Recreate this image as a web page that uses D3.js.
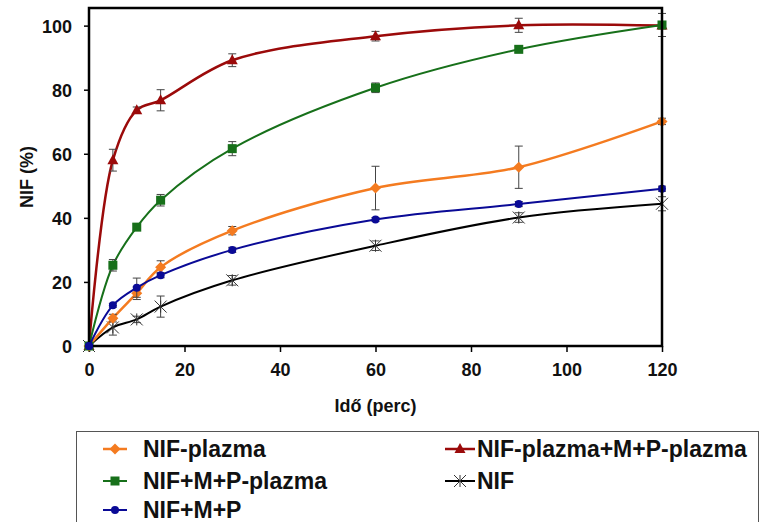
<!DOCTYPE html>
<html>
<head>
<meta charset="utf-8">
<script src="https://cdn.jsdelivr.net/npm/d3@7"></script>
<style>
  body { margin: 0; background: #fff; }
  svg { display: block; font-family: "Liberation Sans", Arial, sans-serif; }
  .tick-label { font-size: 18px; font-weight: bold; fill: #111; }
  .axis-title { font-size: 18px; font-weight: bold; fill: #111; }
  .legend-label { font-size: 23px; font-weight: bold; fill: #111; }
</style>
</head>
<body>
<div id="chart"></div>
<script>
// time points (perc)
const times = [0, 5, 10, 15, 30, 60, 90, 120];

// series values (%) and error bars
const nifPlazma      = [0, 8.7, 16.5, 24.6, 36.0, 49.3, 55.8, 70.1];
const nifPlazmaErr   = [0, 1.2, 2.0, 2.0, 1.3, 6.8, 6.6, 1.0];
const nifMPPlazma    = [0, 25.2, 37.1, 45.5, 61.6, 80.6, 92.6, 100.2];
const nifMPPlazmaErr = [0, 1.8, 1.0, 1.8, 2.2, 1.5, 1.0, 3.6];
const nifMP          = [0, 12.7, 18.2, 22.1, 30.0, 39.5, 44.3, 49.1];
const nifMPErr       = [0, 0.6, 3.0, 0.8, 0.8, 0.6, 0.8, 0.8];
const nifPlazmaMP    = [0, 58.0, 73.6, 76.7, 89.2, 96.7, 100.1, 100.0];
const nifPlazmaMPErr = [0, 3.4, 1.0, 3.3, 2.0, 1.5, 2.2, 1.0];
const nif            = [0, 5.8, 8.3, 12.3, 20.5, 31.3, 40.1, 44.4];
const nifErr         = [0, 2.4, 1.0, 3.3, 1.5, 1.5, 1.5, 2.2];

const yTicks = [0, 20, 40, 60, 80, 100];
const xTicks = [0, 20, 40, 60, 80, 100, 120];

const series = [
    {name: "NIF-plazma+M+P-plazma", values: nifPlazmaMP, errors: nifPlazmaMPErr, color: "#9b0a0a", symbol: "triangle", width: 2.5},
    {name: "NIF", values: nif, errors: nifErr, color: "#000000", symbol: "asterisk", width: 2},
    {name: "NIF-plazma", values: nifPlazma, errors: nifPlazmaErr, color: "#f47b20", symbol: "diamond", width: 2.5},
    {name: "NIF+M+P-plazma", values: nifMPPlazma, errors: nifMPPlazmaErr, color: "#17701a", symbol: "square", width: 2},
    {name: "NIF+M+P", values: nifMP, errors: nifMPErr, color: "#0a0a96", symbol: "circle", width: 2}
];

const legendOrder = [
    {name: "NIF-plazma", col: 0, row: 0},
    {name: "NIF+M+P-plazma", col: 0, row: 1},
    {name: "NIF+M+P", col: 0, row: 2},
    {name: "NIF-plazma+M+P-plazma", col: 1, row: 0},
    {name: "NIF", col: 1, row: 1}
];

const W = 761, H = 522;
const plot = {left: 89, right: 662, top: 8, bottom: 346};

const svg = d3.select("#chart").append("svg")
    .attr("width", W)
    .attr("height", H);

const x = d3.scaleLinear().domain([0, 120]).range([plot.left, plot.right]);
const y = d3.scaleLinear().domain([0, 105.5]).range([plot.bottom, plot.top]);

function drawMarker(g, symbol, color, cx, cy) {
    if (symbol === "triangle") {
        g.append("path")
            .attr("d", `M${cx},${cy - 6}L${cx + 5.5},${cy + 4}L${cx - 5.5},${cy + 4}Z`)
            .attr("fill", color);
    } else if (symbol === "square") {
        g.append("rect")
            .attr("x", cx - 4.5).attr("y", cy - 4.5)
            .attr("width", 9).attr("height", 9)
            .attr("fill", color);
    } else if (symbol === "diamond") {
        g.append("path")
            .attr("d", `M${cx},${cy - 5.5}L${cx + 5.5},${cy}L${cx},${cy + 5.5}L${cx - 5.5},${cy}Z`)
            .attr("fill", color);
    } else if (symbol === "circle") {
        g.append("circle")
            .attr("cx", cx).attr("cy", cy).attr("r", 4)
            .attr("fill", color);
    } else if (symbol === "asterisk") {
        const r = 6;
        g.append("path")
            .attr("d", `M${cx - r},${cy - r}L${cx + r},${cy + r}M${cx - r},${cy + r}L${cx + r},${cy - r}M${cx},${cy - r}L${cx},${cy + r}`)
            .attr("stroke", "#333")
            .attr("stroke-width", 1)
            .attr("fill", "none");
    }
}

// axes ticks
const yAxis = d3.axisLeft(y).tickValues(yTicks).tickSize(5).tickFormat(d3.format("d"));
const yG = svg.append("g")
    .attr("transform", `translate(${plot.left},0)`)
    .call(yAxis);
yG.select(".domain").remove();
yG.selectAll(".tick line").attr("stroke", "#000").attr("stroke-width", 1.5);
yG.selectAll(".tick text")
    .attr("class", "tick-label")
    .attr("x", -17)
    .attr("dy", "0.36em");

const xAxis = d3.axisBottom(x).tickValues(xTicks).tickSize(6).tickFormat(d3.format("d"));
const xG = svg.append("g")
    .attr("transform", `translate(0,${plot.bottom})`)
    .call(xAxis);
xG.select(".domain").remove();
xG.selectAll(".tick line").attr("stroke", "#000").attr("stroke-width", 1.5);
xG.selectAll(".tick text")
    .attr("class", "tick-label")
    .attr("y", 24)
    .attr("dy", "0.36em");

// lines
const line = d3.line()
    .x((d, i) => x(times[i]))
    .y(d => y(d))
    .curve(d3.curveCatmullRom.alpha(0.5));

series.forEach(s => {
    const g = svg.append("g").attr("class", "series");
    g.append("path")
        .attr("d", line(s.values))
        .attr("fill", "none")
        .attr("stroke", s.color)
        .attr("stroke-width", s.width);

    // error bars
    s.values.forEach((v, i) => {
        const e = s.errors[i];
        if (!e) return;
        const cx = x(times[i]);
        g.append("path")
            .attr("d", `M${cx},${y(v - e)}L${cx},${y(v + e)}M${cx - 4},${y(v - e)}L${cx + 4},${y(v - e)}M${cx - 4},${y(v + e)}L${cx + 4},${y(v + e)}`)
            .attr("stroke", "#444")
            .attr("stroke-width", 1)
            .attr("fill", "none");
    });

    s.values.forEach((v, i) => drawMarker(g, s.symbol, s.color, x(times[i]), y(v)));
});

// plot frame
svg.append("rect")
    .attr("x", plot.left)
    .attr("y", plot.top)
    .attr("width", plot.right - plot.left)
    .attr("height", plot.bottom - plot.top)
    .attr("fill", "none")
    .attr("stroke", "#000")
    .attr("stroke-width", 2.5);

// redraw first markers on top of frame like the original
const blue = series.find(s => s.symbol === "circle");
drawMarker(svg.append("g"), "circle", blue.color, x(0), y(0));

// axis titles
svg.append("text")
    .attr("class", "axis-title")
    .attr("x", (plot.left + plot.right) / 2)
    .attr("y", 412)
    .attr("text-anchor", "middle")
    .text("Idő (perc)");

svg.append("text")
    .attr("class", "axis-title")
    .attr("transform", `translate(33,${(plot.top + plot.bottom) / 2}) rotate(-90)`)
    .attr("text-anchor", "middle")
    .text("NIF (%)");

// legend
const legend = svg.append("g").attr("class", "legend");
legend.append("rect")
    .attr("x", 76.5)
    .attr("y", 431.5)
    .attr("width", 682)
    .attr("height", 120)
    .attr("fill", "none")
    .attr("stroke", "#555")
    .attr("stroke-width", 1);

const colX = [{line0: 103, line1: 127, text: 143}, {line0: 445, line1: 475, text: 477}];
const rowBase = [457, 489, 518];

legendOrder.forEach(item => {
    const s = series.find(d => d.name === item.name);
    const c = colX[item.col];
    const base = rowBase[item.row];
    const my = base - 8;
    legend.append("line")
        .attr("x1", c.line0).attr("x2", c.line1)
        .attr("y1", my).attr("y2", my)
        .attr("stroke", s.color)
        .attr("stroke-width", s.width);
    drawMarker(legend, s.symbol, s.color, (c.line0 + c.line1) / 2, my);
    legend.append("text")
        .attr("class", "legend-label")
        .attr("x", c.text)
        .attr("y", base)
        .text(s.name);
});
</script>
</body>
</html>
